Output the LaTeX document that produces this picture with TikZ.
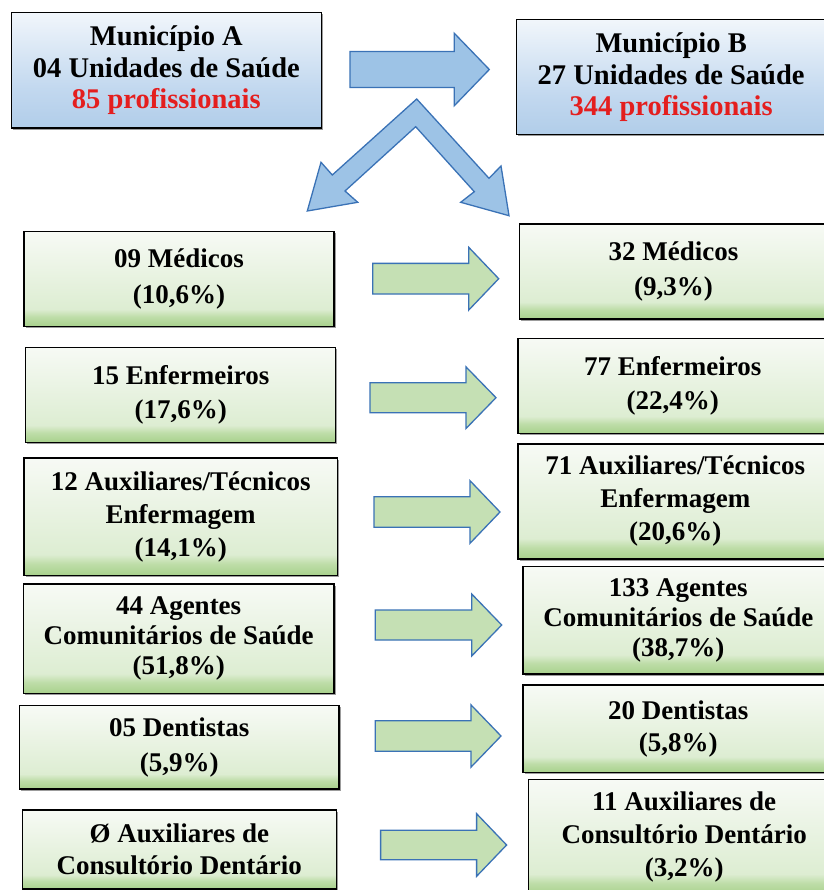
\documentclass[tikz,border=0pt]{standalone}
\usepackage{fontspec}
\setmainfont{Liberation Serif}
\usetikzlibrary{shadows}
\definecolor{gB}{HTML}{A8D18C}
\definecolor{gB2}{HTML}{BEDDA8}
\definecolor{gM}{HTML}{DDEDD2}
\definecolor{gT}{HTML}{F7FAF5}
\definecolor{bB}{HTML}{B1CDE9}
\definecolor{bM}{HTML}{C2D8EF}
\definecolor{bT}{HTML}{F1F6FB}
\definecolor{arrBlue}{HTML}{9DC3E6}
\definecolor{arrLine}{HTML}{3A72B6}
\definecolor{arrGreen}{HTML}{C5E0B4}
\definecolor{txtRed}{HTML}{E41E1E}
\pgfdeclareverticalshading{greenshade}{100bp}{color(0bp)=(gB); color(25bp)=(gB); color(30bp)=(gB2); color(34bp)=(gM); color(75bp)=(gT); color(100bp)=(gT)}
\pgfdeclareverticalshading{blueshade}{100bp}{color(0bp)=(bB); color(25bp)=(bB); color(42bp)=(bM); color(75bp)=(bT); color(100bp)=(bT)}
\newcommand\hblockarrow[7]{%
  \draw[#1] ({#2},{#5-#6}) -- ({#3},{#5-#6}) -- ({#3},{#5-#7}) -- ({#4},{#5})
    -- ({#3},{#5+#7}) -- ({#3},{#5+#6}) -- ({#2},{#5+#6}) -- cycle;}
\begin{document}
\begin{tikzpicture}[x=1pt,y=-1pt,
  boxbase/.style={draw=black, line width=1.3pt, inner sep=0pt, anchor=north west,
    align=center, drop shadow={shadow xshift=1.6pt, shadow yshift=-1.6pt, fill=black!70, opacity=0.55}},
  bluebox/.style={boxbase, shading=blueshade, font=\fontsize{28.5}{31.5}\selectfont\bfseries},
  greenbox/.style={boxbase, shading=greenshade},
  gtext/.style={font=\fontsize{27}{#1}\selectfont\bfseries},
  bluearrow/.style={fill=arrBlue, draw=arrLine, line width=1.3pt, line join=miter},
  greenarrow/.style={fill=arrGreen, draw=arrLine, line width=1.3pt, line join=miter}
]
\useasboundingbox (0,0) rectangle (823,890);
\fill[white] (0,0) rectangle (823,890);

% top boxes
\node[bluebox, minimum width=310pt, minimum height=115.6pt] (A) at (10.7,11.7)
  {Município A\\04 Unidades de Saúde\\\textcolor{txtRed}{85 profissionais}};
\node[bluebox, minimum width=309pt, minimum height=115pt] (B) at (516,19)
  {Município B\\27 Unidades de Saúde\\\textcolor{txtRed}{344 profissionais}};

% blue arrows
\hblockarrow{bluearrow}{350}{454.3}{489.3}{69.5}{18}{36.2}
\draw[bluearrow] (416.7,99) -- (332.3,175) -- (321,162.3) -- (307.3,211) -- (357.7,202.3)
  -- (345,191) -- (415.7,126.7) -- (474.3,191.7) -- (460.7,202.3) -- (509,215.7)
  -- (501,166) -- (489,178.3) -- cycle;

% left column
\node[greenbox, gtext=36, minimum width=310pt, minimum height=95pt] (L1) at (23.3,230.7)
  {09 Médicos\\(10,6\%)};
\node[greenbox, gtext=34, minimum width=310pt, minimum height=95pt] (L2) at (25,346.7)
  {15 Enfermeiros\\(17,6\%)};
\node[greenbox, gtext=33, minimum width=313.4pt, minimum height=117.7pt] (L3) at (23.3,457.3)
  {12 Auxiliares/Técnicos\\Enfermagem\\(14,1\%)};
\node[greenbox, gtext=30, minimum width=310.6pt, minimum height=109.4pt] (L4) at (22.7,583.3)
  {44 Agentes\\Comunitários de Saúde\\(51,8\%)};
\node[greenbox, gtext=35, minimum width=319.3pt, minimum height=83.3pt] (L5) at (19,705)
  {05 Dentistas\\(5,9\%)};
\node[greenbox, gtext=32, minimum width=314pt, minimum height=79pt] (L6) at (21.7,809.3)
  {Ø Auxiliares de\\Consultório Dentário};

% right column
\node[greenbox, gtext=35, minimum width=308.3pt, minimum height=95pt] (R1) at (518.7,223.3)
  {32 Médicos\\(9,3\%)};
\node[greenbox, gtext=34, minimum width=309.4pt, minimum height=95pt] (R2) at (517.3,337.7)
  {77 Enfermeiros\\(22,4\%)};
\node[greenbox, gtext=33, minimum width=314.7pt, minimum height=115pt] (R3) at (517.3,443.3)
  {71 Auxiliares/Técnicos\\Enfermagem\\(20,6\%)};
\node[greenbox, gtext=30, minimum width=310.7pt, minimum height=107.3pt] (R4) at (522.3,566)
  {133 Agentes\\Comunitários de Saúde\\(38,7\%)};
\node[greenbox, gtext=32, minimum width=310.7pt, minimum height=87.4pt] (R5) at (522.3,684.3)
  {20 Dentistas\\(5,8\%)};
\node[greenbox, gtext=33, minimum width=311pt, minimum height=115pt] (R6) at (528,779)
  {11 Auxiliares de\\Consultório Dentário\\(3,2\%)};

% green arrows
\hblockarrow{greenarrow}{372.7}{468.8}{498.7}{278.7}{15.3}{31.3}
\hblockarrow{greenarrow}{370}{466}{496}{397.7}{15}{30.8}
\hblockarrow{greenarrow}{374}{470}{500}{512}{15.2}{31.3}
\hblockarrow{greenarrow}{375.3}{471.7}{501.7}{625}{15}{31}
\hblockarrow{greenarrow}{375.3}{470.9}{501}{736}{15.2}{31.2}
\hblockarrow{greenarrow}{380.6}{476.6}{506.6}{845}{14.7}{31.3}
\end{tikzpicture}
\end{document}
